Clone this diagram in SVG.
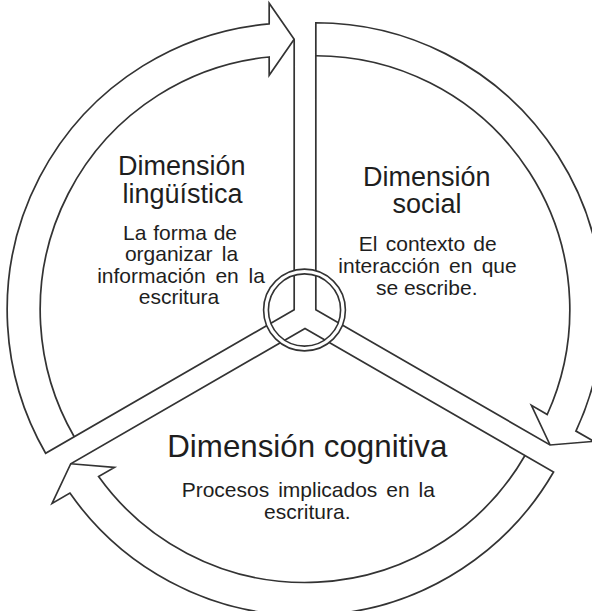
<svg xmlns="http://www.w3.org/2000/svg" width="592" height="611" viewBox="0 0 592 611">
<defs>
<style>
.shape{fill:#ffffff;stroke:#333333;stroke-width:1.7;stroke-linejoin:miter}
.inner{fill:none;stroke:#333333;stroke-width:1.7;stroke-linejoin:miter}
.t{font-family:"Liberation Sans",Arial,sans-serif;fill:#1e1e1e;text-anchor:middle}
.title{font-size:27px}
.big{font-size:31.3px}
.body{font-size:21px}
</style>
</defs>
<rect x="0" y="0" width="592" height="611" fill="#ffffff"/>
<g id="connectors">
<g id="arrow-linguistica">
<path class="shape" d="M294.18,309.75 L45.62,453.25 A287,287 0 0 1 269.18,23.84 L269.18,3.25 L294.18,39.25 Z"/>
<path class="inner" d="M74.20,436.75 A254,254 0 0 1 269.18,56.98 L269.18,75.25 L294.18,39.25"/>
</g>
<g id="arrow-social">
<path class="shape" d="M315.83,309.75 L315.83,22.75 A287,287 0 0 1 575.93,431.06 L593.77,441.35 L550.09,445.00 Z"/>
<path class="inner" d="M315.83,55.75 A254,254 0 0 1 547.23,414.49 L531.41,405.35 L550.09,445.00"/>
</g>
<g id="arrow-cognitiva">
<path class="shape" d="M305,328.5 L553.55,472.00 A287,287 0 0 1 69.90,493.11 L52.06,503.40 L70.74,463.75 Z"/>
<path class="inner" d="M524.97,455.50 A254,254 0 0 1 98.60,476.54 L114.42,467.40 L70.74,463.75"/>
</g>
</g>
<g id="hub">
<circle cx="304.5" cy="310" r="38.5" fill="none" stroke="#333333" stroke-width="6.4"/>
<circle cx="304.5" cy="310" r="38.5" fill="none" stroke="#ffffff" stroke-width="3.2"/>
</g>
<g id="node-linguistica">
<text class="t title" x="181.7" y="175">Dimensión</text>
<text class="t title" x="182.5" y="202.7">lingüística</text>
<text class="t body" x="180" y="240" word-spacing="1">La forma de</text>
<text class="t body" x="181.5" y="261" word-spacing="3.5">organizar la</text>
<text class="t body" x="181" y="282.7" word-spacing="3.9">información en la</text>
<text class="t body" x="179" y="304">escritura</text>
</g>
<g id="node-social">
<text class="t title" x="426.7" y="186">Dimensión</text>
<text class="t title" x="427" y="213.3">social</text>
<text class="t body" x="427.8" y="250.7" word-spacing="2.4">El contexto de</text>
<text class="t body" x="427.5" y="272.7" word-spacing="3.4">interacción en que</text>
<text class="t body" x="426.7" y="295">se escribe.</text>
</g>
<g id="node-cognitiva">
<text class="t big" x="307.3" y="456.7">Dimensión cognitiva</text>
<text class="t body" x="308.3" y="496.7" word-spacing="3.1">Procesos implicados en la</text>
<text class="t body" x="307.3" y="519.3">escritura.</text>
</g>
</svg>
